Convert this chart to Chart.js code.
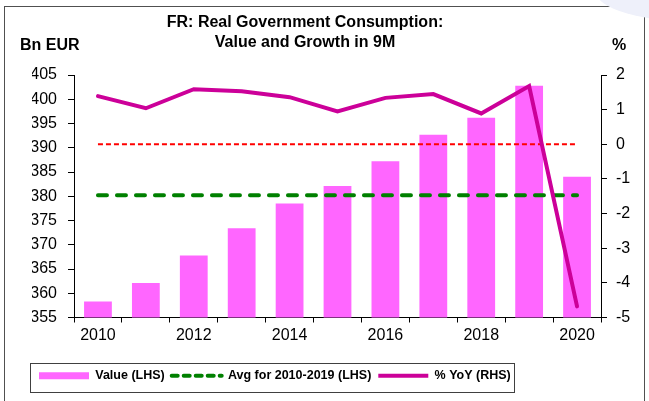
<!DOCTYPE html>
<html>
<head>
<meta charset="utf-8">
<script src="https://cdn.jsdelivr.net/npm/chart.js@4.4.1/dist/chart.umd.min.js"></script>
<style>
  html, body { margin: 0; padding: 0; background: #ffffff; }
  canvas { display: block; }
</style>
</head>
<body>
<canvas id="chart" width="649" height="401"></canvas>
<script>
// ---------------- data ----------------
const years = ['2010','2011','2012','2013','2014','2015','2016','2017','2018','2019','2020'];
const xTickLabels = ['2010','','2012','','2014','','2016','','2018','','2020'];
const valueBnEur = [358.3, 362.1, 367.8, 373.4, 378.5, 382.1, 387.2, 392.7, 396.2, 402.8, 384.0];
const avg2010to2019 = [380.2, 380.2, 380.2, 380.2, 380.2, 380.2, 380.2, 380.2, 380.2, 380.2, 380.2];
const yoyPct = [1.39, 1.04, 1.59, 1.53, 1.36, 0.95, 1.34, 1.45, 0.89, 1.68, -4.68];
const zeroLine = [0, 0, 0, 0, 0, 0, 0, 0, 0, 0, 0];
const leftAxisRange = [355, 405, 5];
const rightAxisRange = [-5, 2, 1];
const titleLines = ['FR: Real Government Consumption:', 'Value and Growth in 9M'];
const leftAxisTitle = 'Bn EUR';
const rightAxisTitle = '%';
const seriesLabels = ['Value (LHS)', 'Avg for 2010-2019 (LHS)', '% YoY (RHS)'];

const FONT = '"Liberation Sans", Arial, Helvetica, sans-serif';
const PINK = '#FF66FF';
const GREEN = '#008000';
const MAGENTA = '#CC0099';
const RED = '#FF0000';

const decorPlugin = {
  id: 'decor',
  beforeDraw(chart) {
    const ctx = chart.ctx;
    ctx.save();
    ctx.fillStyle = '#ffffff';
    ctx.fillRect(0, 0, chart.width, chart.height);
    // outer frame
    ctx.strokeStyle = '#505050';
    ctx.lineWidth = 1;
    ctx.strokeRect(4.5, 6.5, 640, 420);
    // light corner decoration
    ctx.fillStyle = '#eef0fa';
    ctx.beginPath();
    ctx.ellipse(700, -8, 104, 30, 0, 0, Math.PI * 2);
    ctx.fill();
    ctx.restore();
  },
  afterDraw(chart) {
    const ctx = chart.ctx;
    ctx.save();
    ctx.fillStyle = '#000000';
    ctx.font = 'bold 16px ' + FONT;
    ctx.textBaseline = 'middle';
    ctx.textAlign = 'center';
    ctx.fillText(titleLines[0], 305, 23);
    ctx.fillText(titleLines[1], 305, 43);
    ctx.textAlign = 'left';
    ctx.fillText(leftAxisTitle, 20, 46);
    ctx.fillText(rightAxisTitle, 612, 46);
    // legend frame
    const lg = chart.legend;
    const hb = lg.legendHitBoxes;
    if (hb && hb.length) {
      const l = hb[0].left - 9;
      const last = hb[hb.length - 1];
      const r = last.left + last.width + 3;
      ctx.strokeStyle = '#404040';
      ctx.lineWidth = 1;
      ctx.strokeRect(Math.round(l) + 0.5, Math.round(lg.top) + 0.5, Math.round(r - l), Math.round(lg.bottom - lg.top) - 1);
    }
    ctx.restore();
  }
};

const legendStyles = [
  { color: PINK, width: 7, dash: [], cap: 'butt' },
  { color: GREEN, width: 4, dash: [6, 6], cap: 'round' },
  { color: MAGENTA, width: 4, dash: [], cap: 'butt' }
];

new Chart(document.getElementById('chart'), {
  data: {
    labels: years,
    datasets: [
      {
        type: 'bar', label: seriesLabels[0], data: valueBnEur, yAxisID: 'y',
        backgroundColor: PINK, borderWidth: 0,
        barPercentage: 0.58, categoryPercentage: 1.0, order: 10
      },
      {
        type: 'line', label: seriesLabels[1], data: avg2010to2019, yAxisID: 'y',
        borderColor: GREEN, borderWidth: 4, borderDash: [9, 10], borderCapStyle: 'round',
        pointRadius: 0, fill: false, order: 2
      },
      {
        type: 'line', label: seriesLabels[2], data: yoyPct, yAxisID: 'yR',
        borderColor: MAGENTA, borderWidth: 4, borderJoinStyle: 'miter', borderCapStyle: 'round',
        pointRadius: 0, fill: false, tension: 0, order: 1
      },
      {
        type: 'line', label: 'zero', data: zeroLine, yAxisID: 'yR',
        borderColor: RED, borderWidth: 2, borderDash: [5, 3],
        pointRadius: 0, fill: false, order: 3
      }
    ]
  },
  options: {
    responsive: false,
    animation: false,
    layout: { padding: { left: 32, right: 10, top: 75, bottom: 9 } },
    plugins: {
      title: { display: false },
      tooltip: { enabled: false },
      legend: {
        display: true,
        position: 'bottom',
        align: 'start',
        labels: {
          usePointStyle: true,
          pointStyleWidth: 50,
          padding: 7,
          color: '#000000',
          font: { family: FONT, size: 12.5, weight: 'bold' },
          generateLabels(chart) {
            return chart.data.datasets.slice(0, 3).map((ds, i) => ({
              text: ds.label,
              fillStyle: legendStyles[i].color,
              strokeStyle: legendStyles[i].color,
              lineWidth: legendStyles[i].width,
              lineDash: legendStyles[i].dash,
              lineCap: legendStyles[i].cap,
              pointStyle: 'line',
              hidden: false,
              datasetIndex: i,
              fontColor: '#000000'
            }));
          }
        }
      }
    },
    scales: {
      x: {
        type: 'category',
        offset: true,
        grid: { offset: true, drawOnChartArea: false, drawTicks: true, tickLength: 5, color: '#000000', tickColor: '#000000' },
        border: { display: true, color: '#000000', width: 1 },
        ticks: {
          autoSkip: false, maxRotation: 0, minRotation: 0, padding: 3,
          color: '#000000', font: { family: FONT, size: 16 },
          callback: (v, i) => xTickLabels[i]
        },
        afterFit(scale) { scale.height = 45; }
      },
      y: {
        type: 'linear', position: 'left',
        min: leftAxisRange[0], max: leftAxisRange[1],
        grid: { drawOnChartArea: false, drawTicks: true, tickLength: 6, color: '#000000', tickColor: '#000000' },
        border: { display: true, color: '#000000', width: 1 },
        ticks: { stepSize: leftAxisRange[2], padding: 11, color: '#000000', font: { family: FONT, size: 16 } },
        afterFit(scale) { scale.width = 42; }
      },
      yR: {
        type: 'linear', position: 'right',
        min: rightAxisRange[0], max: rightAxisRange[1],
        grid: { drawOnChartArea: false, drawTicks: true, tickLength: 6, color: '#000000', tickColor: '#000000' },
        border: { display: true, color: '#000000', width: 1 },
        ticks: { stepSize: rightAxisRange[2], padding: 9, color: '#000000', font: { family: FONT, size: 16 } },
        afterFit(scale) { scale.width = 38; }
      }
    }
  },
  plugins: [decorPlugin]
});
</script>
</body>
</html>
